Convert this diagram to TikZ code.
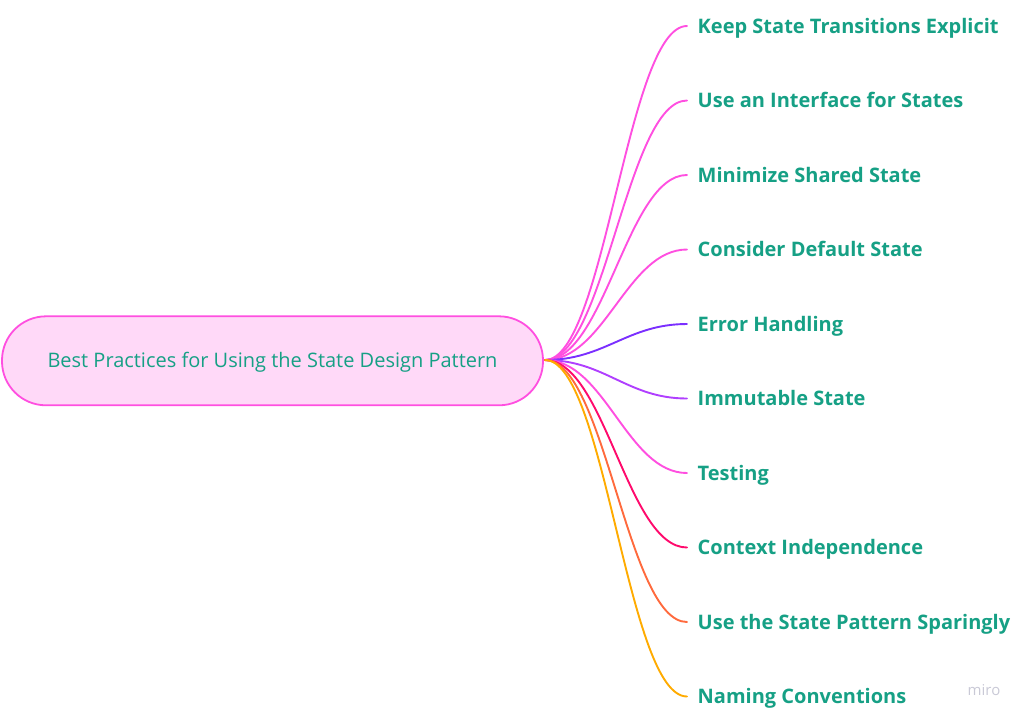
\documentclass[tikz,border=0pt]{standalone}
\usepackage{fontspec}
\setmainfont{Open Sans}
\definecolor{txtgreen}{HTML}{16A085}
\definecolor{rootfill}{HTML}{FFD9F8}
\definecolor{mag}{HTML}{FF4FE0}
\definecolor{violet}{HTML}{7B2FFF}
\definecolor{purple}{HTML}{B03FFF}
\definecolor{crimson}{HTML}{FF0A6C}
\definecolor{coral}{HTML}{FF6A3D}
\definecolor{amber}{HTML}{FFAB00}
\definecolor{mirogray}{HTML}{C9C9D6}
\begin{document}
\begin{tikzpicture}[x=1pt,y=-1pt,
  rootbox/.style={draw=mag, fill=rootfill, line width=1.8pt, rounded corners=44pt,
    minimum width=541pt, minimum height=89pt, text=txtgreen,
    text height=14.3pt, text depth=0pt,
    font=\fontsize{20}{24}\selectfont},
  leaf/.style={anchor=west, inner xsep=10.5pt, inner ysep=3pt, text=txtgreen,
    text height=14.3pt, text depth=0pt,
    font=\bfseries\fontsize{20}{24}\selectfont},
  branch/.style={line width=1.9pt, line cap=round}]
\useasboundingbox (0,0) rectangle (1024,721);
\node[rootbox] (root) at (272.5,360.8) {Best Practices for Using the State Design Pattern};
\coordinate (hub) at (545,360);
\node[leaf] (l1) at (687,26) {Keep State Transitions Explicit};
\node[leaf] (l2) at (687,100.5) {Use an Interface for States};
\node[leaf] (l3) at (687,175) {Minimize Shared State};
\node[leaf] (l4) at (687,249.5) {Consider Default State};
\node[leaf] (l5) at (687,324) {Error Handling};
\node[leaf] (l6) at (687,398.5) {Immutable State};
\node[leaf] (l7) at (687,473) {Testing};
\node[leaf] (l8) at (687,547.5) {Context Independence};
\node[leaf] (l9) at (687,622) {Use the State Pattern Sparingly};
\node[leaf] (l10) at (687,696.5) {Naming Conventions};
\foreach \n/\c in {l1/mag,l2/mag,l3/mag,l4/mag,l5/violet,l6/purple,l7/mag,l8/crimson,l9/coral,l10/amber}{
  \draw[branch, draw=\c] (hub) .. controls ([xshift=60pt]hub) and ([xshift=-60pt]\n.west) .. (\n.west);
}
\node[text=mirogray, font=\fontsize{15}{18}\selectfont] (miro) at (984,690) {miro};
\end{tikzpicture}
\end{document}
